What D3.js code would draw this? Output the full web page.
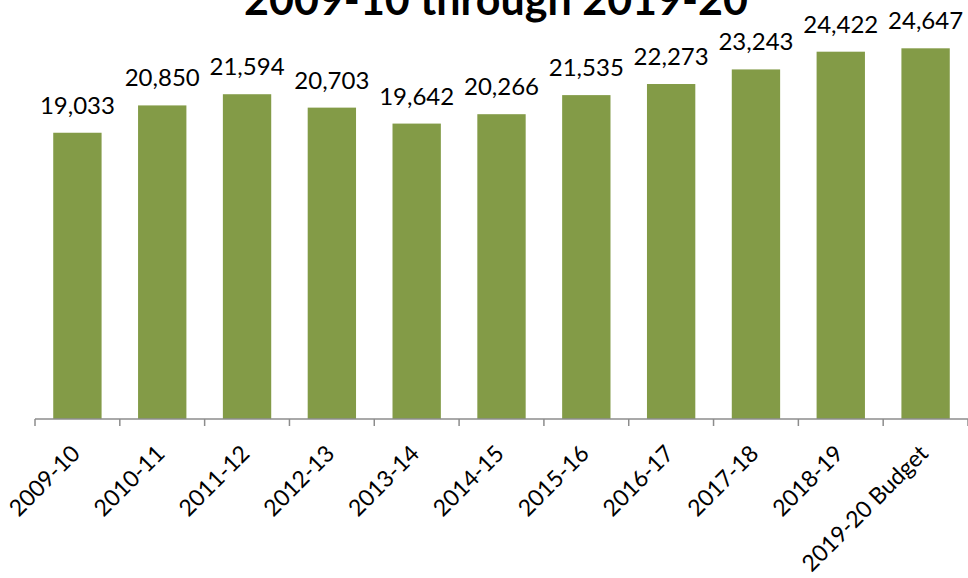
<!DOCTYPE html>
<html>
<head>
<meta charset="utf-8">
<script src="https://cdn.jsdelivr.net/npm/d3@7"></script>
<style>
  html, body { margin: 0; padding: 0; background: #fff; }
  svg { display: block; }
  text { font-family: Lato, "Open Sans", sans-serif; fill: #000; }
</style>
</head>
<body>
<svg id="chart" width="968" height="578"></svg>
<script>
// Fiscal years and their totals
const years = ["2009-10", "2010-11", "2011-12", "2012-13", "2013-14", "2014-15",
               "2015-16", "2016-17", "2017-18", "2018-19", "2019-20 Budget"];
const totals = [19033, 20850, 21594, 20703, 19642, 20266,
                21535, 22273, 23243, 24422, 24647];
const titleLine = "2009-10 through 2019-20";

const W = 968, H = 578;
const plot = { left: 35, right: 968, top: 43, bottom: 419 };
const barColor = "#839b47";

const svg = d3.select("#chart");

const x = d3.scaleBand()
  .domain(years)
  .range([plot.left, plot.right])
  .paddingInner(0.43)
  .paddingOuter(0.215);

const y = d3.scaleLinear()
  .domain([0, 25000])
  .range([plot.bottom, plot.top]);

// Title (second line of a two-line heading; the first line sits above the frame)
svg.append("text")
  .attr("x", 496)
  .attr("y", 15)
  .attr("text-anchor", "middle")
  .style("font-weight", 700)
  .style("font-size", "43px")
  .text(titleLine);

const data = years.map((k, i) => ({ year: k, value: totals[i] }));

// Bars
svg.append("g")
  .selectAll("rect")
  .data(data)
  .join("rect")
  .attr("x", d => x(d.year))
  .attr("y", d => y(d.value))
  .attr("width", x.bandwidth())
  .attr("height", d => y(0) - y(d.value))
  .attr("fill", barColor);

// Value labels
const fmt = d3.format(",");
svg.append("g")
  .selectAll("text")
  .data(data)
  .join("text")
  .attr("x", d => x(d.year) + x.bandwidth() / 2)
  .attr("y", d => y(d.value) - 19)
  .attr("text-anchor", "middle")
  .style("font-size", "24px")
  .text(d => fmt(d.value));

// Category axis with ticks between categories
const axisG = svg.append("g");
axisG.append("line")
  .attr("x1", plot.left).attr("x2", plot.right)
  .attr("y1", plot.bottom).attr("y2", plot.bottom)
  .attr("stroke", "#8c8c8c").attr("stroke-width", 1.5);

const step = x.step();
const boundaries = d3.range(years.length + 1).map(i => plot.left + i * step);
axisG.selectAll("line.tick")
  .data(boundaries)
  .join("line")
  .attr("class", "tick")
  .attr("x1", d => d).attr("x2", d => d)
  .attr("y1", plot.bottom).attr("y2", plot.bottom + 7)
  .attr("stroke", "#8c8c8c").attr("stroke-width", 1.5);

axisG.selectAll("text")
  .data(years)
  .join("text")
  .attr("transform", d => `translate(${x(d) + x.bandwidth() / 2 + 4},${plot.bottom + 36}) rotate(-45)`)
  .attr("text-anchor", "end")
  .style("font-size", "23px")
  .text(d => d);
</script>
</body>
</html>
